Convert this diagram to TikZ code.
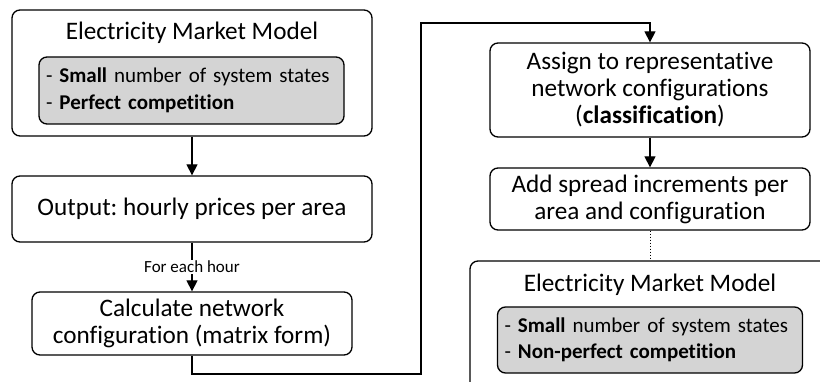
\documentclass[tikz,border=0pt]{standalone}
\usepackage{fontspec}
\setmainfont{Carlito}[Ligatures=NoCommon]
\usetikzlibrary{arrows.meta}
\frenchspacing
\begin{document}
\begin{tikzpicture}[x=1pt,y=-1pt,
    box/.style={draw, rounded corners=8pt, line width=1.3pt, align=center, inner sep=0pt},
    greybox/.style={box, fill=black!17, align=left, text width=305pt, inner sep=0pt,
        font=\fontsize{21}{26.5}\selectfont},
    arr/.style={line width=1.3pt, -{Triangle[width=11pt,length=11pt]}},
    font=\fontsize{25.2}{27}\selectfont]
        \clip (0,0) rectangle (820,382);
        \useasboundingbox (0,0) rectangle (820,382);

        % left column
        \node[box, minimum width=360pt, minimum height=126pt] (mm1) at (192, 73) {};
        \node (mm1title) at (192, 33) {Electricity Market Model};
        \node[greybox, minimum height=67pt] (mm1list) at (191.5, 90.5) {\hspace*{7pt}- \textbf{Small} number of system states\\\hspace*{7pt}- \textbf{Perfect competition}};
        \node[box, minimum width=360pt, minimum height=66pt] (prices) at (192, 209) {Output: hourly prices per area};
        \node[box, minimum width=320pt, minimum height=63pt] (calc) at (192, 323.5) {Calculate network\\configuration (matrix form)};

        % right column
        \node[box, minimum width=320pt, minimum height=94pt] (assign) at (650, 90) {Assign to representative\\network configurations\\(\textbf{classification})};
        \node[box, minimum width=320pt, minimum height=62pt] (spread) at (650, 199) {Add spread increments per\\area and configuration};
        \node[box, minimum width=360pt, minimum height=134pt] (mm2) at (650, 328) {};
        \node (mm2title) at (650, 285) {Electricity Market Model};
        \node[greybox, minimum height=66pt] (mm2list) at (650, 340) {\hspace*{7pt}- \textbf{Small} number of system states\\\hspace*{7pt}- \textbf{Non-perfect competition}};

        \coordinate (loopA) at (421, 374);
        \coordinate (loopB) at (421, 23);

        \draw[arr] (mm1) -- (prices);
        \draw[arr] (prices) -- node[fill=white, inner sep=1pt, font=\fontsize{17}{19}\selectfont] {For each hour} (calc);
        \draw[arr] (calc.south) |- (loopA) -- (loopB) -| (assign.north);
        \draw[arr] (assign) -- (spread);
        \draw[line width=1pt, dotted] (spread) -- (mm2);
    \end{tikzpicture}
\end{document}
